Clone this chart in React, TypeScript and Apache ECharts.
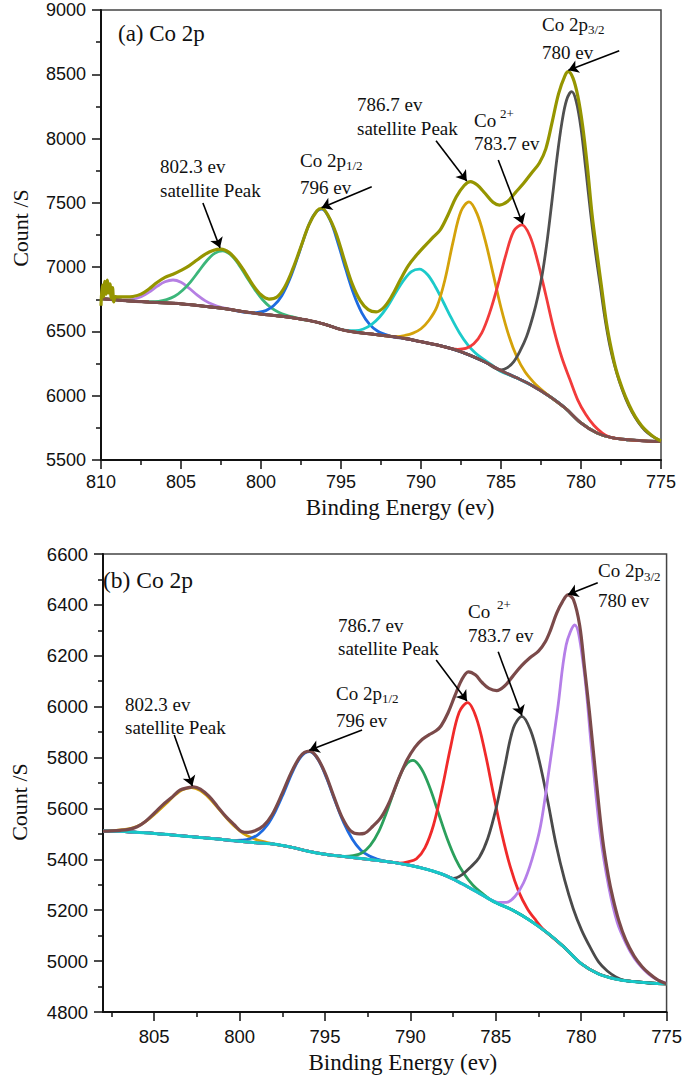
import React, { useEffect, useRef } from 'react';
import * as echarts from 'echarts';

// ---------- Panel (a) data: [binding energy (eV), count/s] ----------
const A_BG = [[810,6755],[809,6745],[808,6735],[807,6728],[806,6722],[805,6715],[804,6702],[803,6688],[802,6672],[801,6652],[800,6635],[799,6622],[798,6606],[797,6585],[796,6555],[795,6515],[794,6492],[793,6478],[792,6463],[791,6445],[790,6420],[789,6395],[788,6362],[787,6318],[786,6262],[785,6195],[784,6138],[783,6075],[782,5998],[781,5905],[780,5788],[779,5710],[778,5672],[777,5657],[776,5648],[775,5643]];
const A_PURPLE = [[808.5,6745],[808,6750],[807.5,6770],[807,6806],[806.5,6850],[806,6886],[805.5,6900],[805,6882],[804.5,6837],[804,6785],[803.5,6740],[803,6709],[802.5,6688],[802,6675],[801.5,6662],[801,6652]];
const A_GREEN = [[807,6731],[806.4,6734],[805.9,6748],[805.4,6773],[804.9,6820],[804.4,6886],[803.9,6967],[803.4,7048],[802.9,7107],[802.4,7127],[801.9,7096],[801.4,7022],[800.9,6924],[800.4,6828],[799.9,6746],[799.4,6687],[798.9,6650],[798.4,6626],[797.9,6609],[797.4,6592]];
const A_BLUE = [[800.7,6645],[800.2,6649],[799.7,6662],[799.2,6701],[798.7,6778],[798.2,6908],[797.7,7080],[797.2,7266],[796.7,7406],[796.2,7452],[795.7,7371],[795.2,7192],[794.7,6982],[794.2,6789],[793.7,6645],[793.2,6553],[792.7,6501],[792.2,6476],[791.7,6456]];
const A_CYAN = [[794.6,6508],[794.1,6506],[793.6,6519],[793.1,6553],[792.6,6610],[792.1,6693],[791.6,6797],[791.1,6895],[790.6,6966],[790.1,6985],[789.6,6943],[789.1,6848],[788.6,6727],[788.1,6603],[787.6,6490],[787.1,6399],[786.6,6332],[786.1,6284],[785.6,6241],[785.1,6195]];
const A_GOLD = [[791.5,6460],[791,6469],[790.5,6487],[790,6521],[789.5,6587],[789,6693],[788.5,6904],[788,7195],[787.5,7435],[787,7508],[786.5,7416],[786,7214],[785.5,6952],[785,6684],[784.5,6463],[784,6299],[783.5,6186],[783,6110],[782.5,6049],[782,5998]];
const A_RED = [[787.7,6361],[787.2,6368],[786.7,6404],[786.2,6489],[785.7,6648],[785.2,6859],[784.7,7094],[784.2,7281],[783.7,7328],[783.2,7244],[782.7,7041],[782.2,6783],[781.7,6516],[781.2,6297],[780.7,6128],[780.2,5966],[779.7,5853],[779.2,5770],[778.7,5713],[778.2,5678]];
const A_GREY = [[785.0,6200],[784.6,6218],[784.2,6265],[783.8,6350],[783.4,6460],[783.0,6620],[782.7,6770],[782.4,6960],[782.1,7220],[781.8,7530],[781.5,7850],[781.2,8120],[780.9,8300],[780.58,8365],[780.3,8290],[780.0,8080],[779.7,7760],[779.4,7420],[779.1,7120],[778.8,6860],[778.5,6600],[778.2,6390],[777.9,6235],[777.6,6110],[777.2,5975],[776.8,5870],[776.4,5790],[776.0,5730],[775.6,5690],[775.2,5660],[775,5648]];
const A_ENVELOPE = [[810,6700],[809.92,6860],[809.84,6770],[809.76,6890],[809.68,6790],[809.6,6900],[809.52,6800],[809.44,6870],[809.36,6760],[809.28,6840],[809.2,6730],[809.1,6770],[808.8,6768],[808.4,6768],[808,6772],[807.5,6790],[807,6830],[806.5,6880],[806,6920],[805.5,6945],[805,6975],[804.5,7010],[804,7055],[803.5,7100],[803,7130],[802.5,7140],[802,7115],[801.5,7050],[801,6960],[800.5,6860],[800,6785],[799.5,6752],[799,6768],[798.5,6850],[798,6990],[797.5,7160],[797,7330],[796.5,7438],[796.2,7458],[795.8,7400],[795.3,7260],[794.8,7060],[794.3,6870],[793.8,6740],[793.3,6670],[792.8,6652],[792.3,6690],[791.8,6780],[791.3,6900],[790.8,7010],[790.3,7090],[789.8,7160],[789.3,7225],[788.8,7290],[788.3,7410],[787.8,7545],[787.3,7635],[786.9,7665],[786.5,7640],[786,7575],[785.5,7505],[785.1,7483],[784.6,7510],[784.1,7580],[783.6,7650],[783.1,7730],[782.6,7810],[782.2,7920],[781.8,8130],[781.4,8350],[781,8490],[780.8,8520],[780.5,8470],[780.2,8330],[779.9,8100],[779.6,7780],[779.3,7400],[779,7110],[778.7,6830],[778.4,6560],[778.1,6360],[777.8,6200],[777.4,6050],[777,5930],[776.6,5835],[776.2,5765],[775.8,5715],[775.4,5675],[775,5648]];

// ---------- Panel (b) data ----------
const B_BG = [[808,5511],[807,5510],[806,5506],[805,5502],[804,5496],[803,5490],[802,5484],[801,5478],[800,5471],[799,5465],[798,5460],[797,5448],[796,5432],[795,5420],[794,5412],[793,5404],[792,5396],[791,5388],[790,5376],[789,5360],[788,5338],[787,5305],[786,5268],[785,5230],[784,5200],[783,5160],[782,5112],[781,5055],[780,4990],[779,4950],[778,4930],[777,4920],[776,4914],[775,4911]];
const B_GOLD = [[807.8,5511],[806.8,5517],[806.3,5523],[805.8,5536],[805.3,5559],[804.8,5588],[804.3,5619],[803.8,5652],[803.3,5675],[802.8,5682],[802.3,5670],[801.8,5642],[801.3,5604],[800.8,5565],[800.3,5530],[799.8,5502],[799.3,5485],[798.8,5473],[798.3,5465],[797.8,5457]];
const B_BLUE = [[800.4,5473],[799.9,5475],[799.4,5481],[798.9,5498],[798.4,5533],[797.9,5590],[797.4,5664],[796.9,5744],[796.4,5804],[795.9,5823],[795.4,5791],[794.9,5718],[794.4,5627],[793.9,5543],[793.4,5479],[792.9,5436],[792.4,5413],[791.9,5400],[791.4,5391]];
const B_GREEN = [[793.85,5412],[793.35,5415],[792.85,5425],[792.35,5455],[791.85,5510],[791.35,5593],[790.85,5687],[790.35,5764],[789.85,5789],[789.35,5755],[788.85,5679],[788.35,5580],[787.85,5482],[787.35,5401],[786.85,5342],[786.35,5299],[785.85,5269],[785.35,5243]];
const B_RED = [[790.65,5385],[790.15,5390],[789.65,5402],[789.15,5445],[788.65,5534],[788.15,5676],[787.65,5840],[787.15,5977],[786.65,6016],[786.15,5958],[785.65,5827],[785.15,5661],[784.65,5502],[784.15,5370],[783.65,5272],[783.15,5206],[782.65,5160],[782.15,5120]];
const B_GREY = [[787.47,5325],[786.97,5340],[786.47,5370],[785.97,5407],[785.47,5482],[784.97,5604],[784.47,5767],[783.97,5916],[783.47,5962],[782.97,5908],[782.47,5791],[781.97,5633],[781.47,5458],[780.97,5319],[780.47,5207],[779.97,5121],[779.47,5054],[778.97,4996],[778.47,4961],[777.97,4938],[777.47,4924]];
const B_PURPLE = [[785.38,5244],[784.88,5231],[784.38,5231],[783.88,5254],[783.38,5307],[782.88,5400],[782.38,5531],[781.88,5753],[781.38,5990],[780.88,6242],[780.38,6321],[779.88,6168],[779.38,5825],[778.88,5496],[778.38,5290],[777.88,5150],[777.38,5070],[776.88,5010],[776.38,4970],[775.88,4940],[775.38,4922],[775,4913]];
const B_ENVELOPE = [[808,5511],[807.5,5512],[807,5514],[806.5,5518],[806,5528],[805.5,5550],[805,5581],[804.5,5614],[804,5642],[803.5,5672],[803,5682],[802.7,5685],[802.3,5676],[801.8,5648],[801.3,5608],[800.8,5568],[800.3,5535],[799.9,5510],[799.5,5506],[799.1,5512],[798.6,5532],[798.1,5575],[797.5,5660],[797,5738],[796.5,5800],[796.2,5820],[795.9,5825],[795.5,5804],[795,5740],[794.5,5650],[794,5565],[793.5,5512],[793,5500],[792.7,5502],[792.2,5530],[791.7,5567],[791.2,5630],[790.7,5715],[790.2,5790],[789.74,5840],[789.3,5872],[788.9,5890],[788.5,5905],[788.2,5925],[787.8,5975],[787.4,6042],[787,6105],[786.6,6137],[786.2,6125],[785.8,6095],[785.4,6072],[784.95,6063],[784.5,6080],[784,6120],[783.5,6160],[783,6192],[782.5,6218],[782.1,6255],[781.8,6300],[781.44,6367],[781.1,6412],[780.77,6439],[780.45,6420],[780.09,6320],[779.8,6150],[779.51,5974],[779.12,5712],[778.74,5476],[778.4,5330],[778.16,5253],[777.8,5160],[777.39,5083],[776.9,5020],[776.43,4978],[776,4950],[775.5,4925],[775.07,4913],[775,4912]];

// Tick values
const A_X_TICKS = [775, 780, 785, 790, 795, 800, 805, 810];
const B_X_TICKS = [775, 780, 785, 790, 795, 800, 805];
const B_X_MINOR = [777.5, 782.5, 787.5, 792.5, 797.5, 802.5, 807.5];

const SANS = '"Liberation Sans", Arial, sans-serif';
const SERIF = '"Liberation Serif", "Times New Roman", serif';

// A fitted component follows the background outside the range where it was read.
function onBackground(comp: number[][], bg: number[][]) {
  const hi = comp[0][0];
  const lo = comp[comp.length - 1][0];
  return [...bg.filter((p) => p[0] > hi + 0.3), ...comp, ...bg.filter((p) => p[0] < lo - 0.3)];
}

function line(name: string, data: number[][], color: string, axis: number, width: number, z: number, extra: any = {}) {
  return {
    type: 'line', name, data, xAxisIndex: axis === 0 ? 0 : 1, yAxisIndex: axis,
    symbol: 'none', showSymbol: false, smooth: 0.35, silent: true, z,
    lineStyle: { color, width }, itemStyle: { color }, emphasis: { disabled: true },
    ...extra,
  };
}

function arrows(list: number[][][]) {
  return {
    silent: true, symbol: ['none', 'arrow'], symbolSize: 10, animation: false,
    label: { show: false }, emphasis: { disabled: true },
    lineStyle: { color: '#000', width: 1.6, type: 'solid' },
    data: list.map(([a, b]) => [{ coord: a }, { coord: b }]),
  };
}

function txt(x: number, y: number, text: string, size = 19) {
  return {
    type: 'text', x, y, silent: true, z: 100,
    style: { text, fontSize: size, fontFamily: SERIF, fill: '#111', align: 'left', verticalAlign: 'middle' },
  };
}

const tickStyle = { color: '#111', width: 1.5 };
const axisLineStyle = { color: '#111', width: 2 };
const plain = (v: number) => String(v);

export default function App() {
  const ref = useRef<HTMLDivElement>(null);
  useEffect(() => {
    document.body.style.margin = '0';
    const chart = echarts.init(ref.current!, null, { renderer: 'svg' });
    const option: any = {
      animation: false,
      backgroundColor: '#fff',
      grid: [
        { left: 101, top: 10, width: 560, height: 450, show: true, borderColor: '#444', borderWidth: 1.5, backgroundColor: 'transparent' },
        { left: 98, top: 554, width: 569, height: 458, show: true, borderColor: '#444', borderWidth: 1.5, backgroundColor: 'transparent' },
      ],
      xAxis: [
        {
          gridIndex: 0, type: 'value', min: 775, max: 810, interval: 5, inverse: true, position: 'bottom',
          name: 'Binding Energy (ev)', nameLocation: 'middle', nameGap: 36,
          nameTextStyle: { fontFamily: SERIF, fontSize: 23, color: '#111', padding: [0, 0, 0, 38] },
          axisLine: { show: true, onZero: false, lineStyle: axisLineStyle },
          axisTick: { show: true, inside: false, length: 9, lineStyle: tickStyle },
          minorTick: { show: true, splitNumber: 2, length: 5, lineStyle: tickStyle },
          axisLabel: { margin: 13, fontSize: 18, fontFamily: SANS, color: '#111', customValues: A_X_TICKS, formatter: plain },
          splitLine: { show: false },
        },
        {
          gridIndex: 1, type: 'value', min: 775, max: 808, interval: 5, inverse: true, position: 'bottom',
          name: 'Binding Energy (ev)', nameLocation: 'middle', nameGap: 39,
          nameTextStyle: { fontFamily: SERIF, fontSize: 23, color: '#111', padding: [0, 0, 0, 36] },
          axisLine: { show: true, onZero: false, lineStyle: axisLineStyle },
          axisTick: { show: true, inside: false, length: 9, lineStyle: tickStyle, customValues: B_X_TICKS },
          minorTick: { show: false },
          axisLabel: { margin: 15, fontSize: 18.5, fontFamily: SANS, color: '#111', customValues: B_X_TICKS, formatter: plain },
          splitLine: { show: false },
        },
        {
          gridIndex: 1, type: 'value', min: 775, max: 808, inverse: true, position: 'bottom', offset: 0,
          axisLine: { show: false, onZero: false },
          axisTick: { show: true, inside: false, length: 5, lineStyle: tickStyle, customValues: B_X_MINOR },
          axisLabel: { show: false },
          splitLine: { show: false },
        },
      ],
      yAxis: [
        {
          gridIndex: 0, type: 'value', min: 5500, max: 9000, interval: 500,
          name: 'Count /S', nameLocation: 'middle', nameGap: 70,
          nameTextStyle: { fontFamily: SERIF, fontSize: 22, color: '#111', padding: [0, 0, 0, 14] },
          axisLine: { show: true, onZero: false, lineStyle: axisLineStyle },
          axisTick: { show: true, inside: false, length: 9, lineStyle: tickStyle },
          minorTick: { show: true, splitNumber: 2, length: 5, lineStyle: tickStyle },
          axisLabel: { margin: 15, fontSize: 18, fontFamily: SANS, color: '#111', formatter: plain },
          splitLine: { show: false },
        },
        {
          gridIndex: 1, type: 'value', min: 4800, max: 6600, interval: 200,
          name: 'Count /S', nameLocation: 'middle', nameGap: 73,
          nameTextStyle: { fontFamily: SERIF, fontSize: 22, color: '#111', padding: [0, 38, 0, 0] },
          axisLine: { show: true, onZero: false, lineStyle: axisLineStyle },
          axisTick: { show: true, inside: false, length: 9, lineStyle: tickStyle },
          minorTick: { show: true, splitNumber: 2, length: 5, lineStyle: tickStyle },
          axisLabel: { margin: 15, fontSize: 18.5, fontFamily: SANS, color: '#111', formatter: plain },
          splitLine: { show: false },
        },
      ],
      series: [
        line('a-purple', onBackground(A_PURPLE, A_BG), '#b57fe3', 0, 2.8, 2),
        line('a-green', onBackground(A_GREEN, A_BG), '#3cb67a', 0, 2.8, 2),
        line('a-blue', onBackground(A_BLUE, A_BG), '#1e6be0', 0, 2.8, 2),
        line('a-cyan', onBackground(A_CYAN, A_BG), '#1ccaca', 0, 2.8, 2),
        line('a-gold', onBackground(A_GOLD, A_BG), '#d4a20a', 0, 2.8, 2),
        line('a-red', onBackground(A_RED, A_BG), '#f23b3b', 0, 2.8, 2),
        line('a-grey', onBackground(A_GREY, A_BG), '#505050', 0, 2.8, 2),
        line('a-background', A_BG, '#7d4f4f', 0, 3, 3),
        line('a-envelope', A_ENVELOPE, '#959500', 0, 3.2, 4, {
          markLine: arrows([
            [[803.63, 7499], [802.56, 7150]],
            [[793.08, 7626], [796.21, 7462]],
            [[789.06, 7983], [787.14, 7670]],
            [[785.17, 7833], [783.64, 7335]],
            [[777.61, 8683], [780.79, 8532]],
          ]),
        }),
        line('b-gold', onBackground(B_GOLD, B_BG), '#d4a20a', 1, 2.8, 2),
        line('b-blue', onBackground(B_BLUE, B_BG), '#1e6be0', 1, 2.8, 2),
        line('b-green', onBackground(B_GREEN, B_BG), '#2ba05c', 1, 2.8, 2),
        line('b-red', onBackground(B_RED, B_BG), '#f02a2a', 1, 2.8, 2),
        line('b-grey', onBackground(B_GREY, B_BG), '#4a4a4a', 1, 2.8, 2),
        line('b-purple', onBackground(B_PURPLE, B_BG), '#b57fe8', 1, 2.8, 2),
        line('b-background', B_BG, '#16c8c8', 1, 3, 3),
        line('b-envelope', B_ENVELOPE, '#7b4a4a', 1, 3.2, 4, {
          markLine: arrows([
            [[803.83, 5889], [802.77, 5688]],
            [[792.83, 5908], [795.92, 5829]],
            [[788.49, 6183], [786.69, 6022]],
            [[784.86, 6216], [783.47, 5965]],
            [[779.03, 6487], [780.77, 6441]],
          ]),
        }),
      ],
      graphic: [
        txt(118, 33, '(a) Co 2p', 23),
        txt(160, 166, '802.3 ev'), txt(160, 190, 'satellite Peak'),
        txt(300, 160, 'Co 2p'), txt(346, 165, '1/2', 13), txt(300, 187, '796 ev'),
        txt(357, 104, '786.7 ev'), txt(357, 128, 'satellite Peak'),
        txt(474, 120, 'Co'), txt(500, 113, '2+', 13), txt(474, 143, '783.7 ev'),
        txt(542, 24, 'Co 2p'), txt(588, 29, '3/2', 13), txt(542, 52, '780 ev'),

        txt(103, 580, '(b) Co 2p', 23.5),
        txt(125, 704, '802.3 ev'), txt(125, 727, 'satellite Peak'),
        txt(336, 693, 'Co 2p'), txt(382, 698, '1/2', 13), txt(336, 720, '796 ev'),
        txt(338, 625, '786.7 ev'), txt(338, 648, 'satellite Peak'),
        txt(468, 611, 'Co'), txt(497, 604, '2+', 13), txt(468, 635, '783.7 ev'),
        txt(598, 570, 'Co 2p'), txt(644, 576, '3/2', 13), txt(598, 600, '780 ev'),
      ],
    };
    chart.setOption(option);
    return () => chart.dispose();
  }, []);
  return <div ref={ref} style={{ width: 685, height: 1077 }} />;
}
